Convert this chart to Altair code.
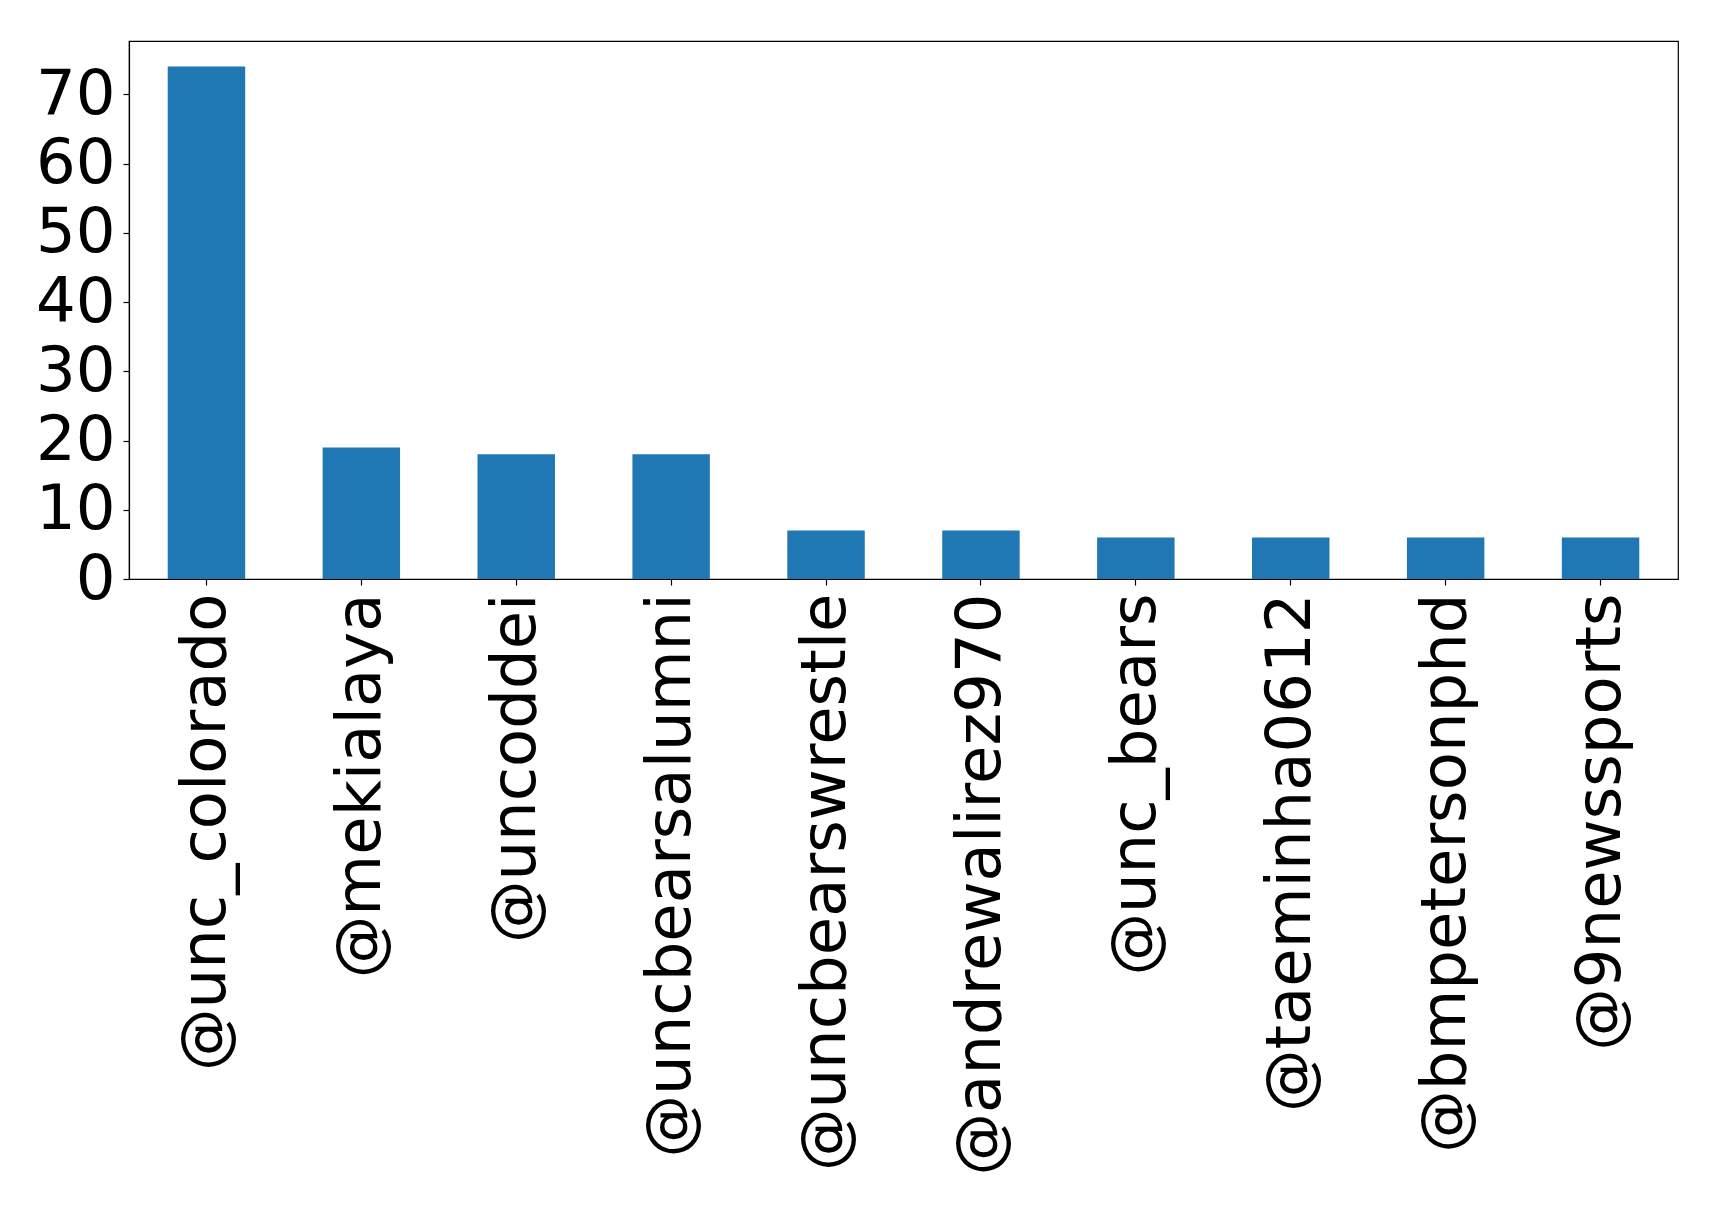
import altair as alt
import pandas as pd

accounts = ["@unc_colorado", "@mekialaya", "@uncoddei", "@uncbearsalumni",
            "@uncbearswrestle", "@andrewalirez970", "@unc_bears",
            "@taeminha0612", "@bmpetersonphd", "@9newssports"]
counts = [74, 19, 18, 18, 7, 7, 6, 6, 6, 6]
y_ticks = [0, 10, 20, 30, 40, 50, 60, 70]

df = pd.DataFrame({"account": accounts, "count": counts})

chart = alt.Chart(df).mark_bar(color="#1f77b4").encode(
    x=alt.X("account:N", sort=accounts, title=None,
            scale=alt.Scale(paddingInner=0.5, paddingOuter=0.25),
            axis=alt.Axis(labelAngle=-90, labelFontSize=62.5, labelFont="DejaVu Sans",
                          labelColor="black", tickColor="black", domainColor="black",
                          tickSize=6, labelPadding=8, labelLimit=0, labelOverlap=False)),
    y=alt.Y("count:Q", title=None,
            scale=alt.Scale(domain=[0, 77.7], nice=False, zero=True),
            axis=alt.Axis(values=y_ticks, labelFontSize=62.5, labelFont="DejaVu Sans",
                          labelColor="black", tickColor="black", domainColor="black",
                          tickSize=6, labelPadding=8, grid=False, labelFlush=False)),
).properties(
    width=1549, height=538,
    autosize=alt.AutoSizeParams(type="none"),
    padding={"left": 121, "top": 33, "right": 33, "bottom": 619},
).configure_view(
    stroke="black", strokeWidth=1.2
).configure_axis(
    domainWidth=1.2, tickWidth=1.2
)

chart.save("out.html", embed_options={"renderer": "svg", "actions": False})
